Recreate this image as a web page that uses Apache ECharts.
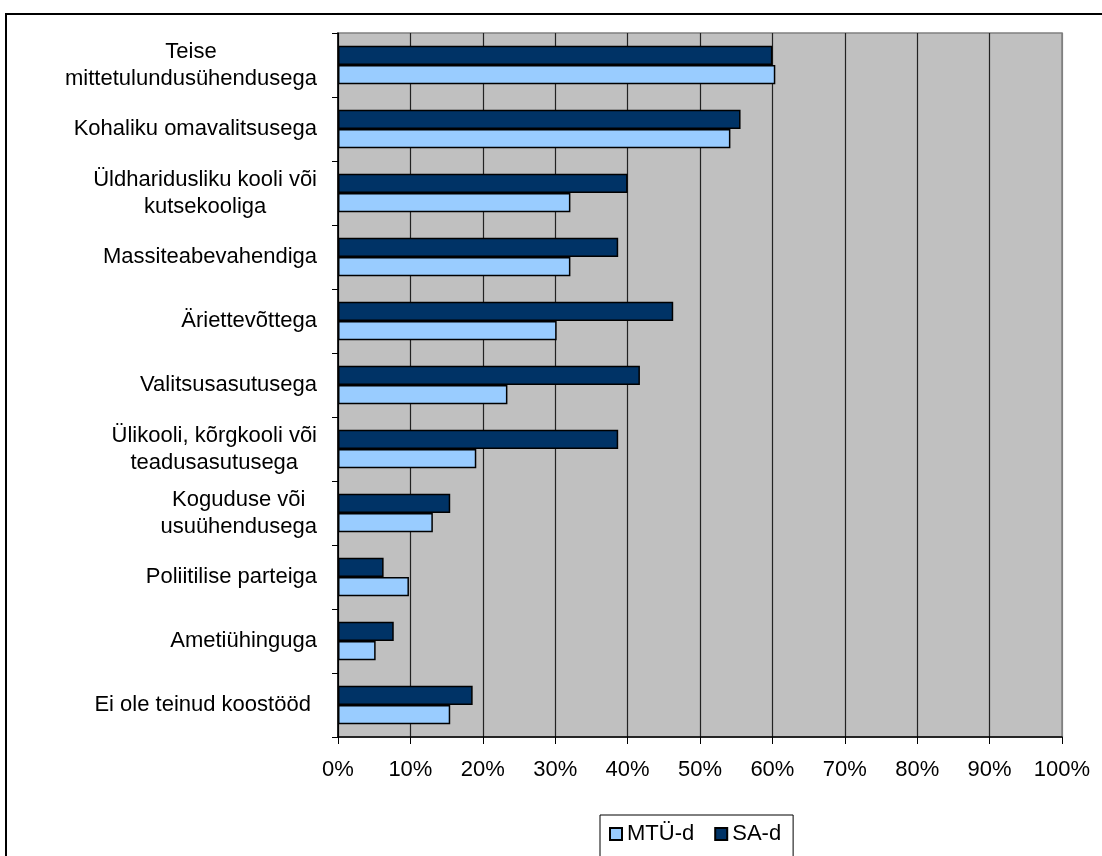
<!DOCTYPE html>
<html>
<head>
<meta charset="utf-8">
<script src="https://cdn.jsdelivr.net/npm/echarts@6/dist/echarts.min.js"></script>
<style>
  html, body { margin: 0; padding: 0; background: #fff; }
  #chart { width: 1102px; height: 856px; }
</style>
</head>
<body>
<div id="chart"></div>
<script>
// kategooriad ülalt alla
var categories = [
    'Teise\nmittetulundusühendusega',
    'Kohaliku omavalitsusega',
    'Üldharidusliku kooli või\nkutsekooliga',
    'Massiteabevahendiga',
    'Äriettevõttega',
    'Valitsusasutusega',
    'Ülikooli, kõrgkooli või\nteadusasutusega',
    'Koguduse või\nusuühendusega',
    'Poliitilise parteiga',
    'Ametiühinguga',
    'Ei ole teinud koostööd '
];
var mtuValues = [60.4, 54.2, 32.1, 32.1, 30.2, 23.4, 19.1, 13.1, 9.8, 5.2, 15.5];
var saValues = [60.0, 55.6, 40.0, 38.7, 46.3, 41.7, 38.7, 15.5, 6.3, 7.7, 18.6];
var seriesNames = ['MTÜ-d', 'SA-d'];

var font = 'Liberation Sans, Arial, sans-serif';

// ruudustiku jooned: 100% kohal hall (raam)
var gridColors = ['#000', '#222', '#222', '#222', '#222', '#222', '#222', '#222', '#222', '#222', '#808080'];

var chart = echarts.init(document.getElementById('chart'));
var option = {
    backgroundColor: '#fff',
    animation: false,
    graphic: [{
        type: 'rect',
        shape: { x: 6, y: 14, width: 1300, height: 1000 },
        style: { fill: 'none', stroke: '#000', lineWidth: 2 },
        silent: true
    }],
    legend: {
        data: seriesNames,
        left: 600,
        top: 815,
        orient: 'horizontal',
        icon: 'rect',
        itemWidth: 12,
        itemHeight: 12,
        itemGap: 20,
        padding: [8, 12, 40, 9],
        borderColor: '#000',
        borderWidth: 1,
        textStyle: {
            fontFamily: font,
            fontSize: 22,
            color: '#000'
        }
    },
    grid: {
        left: 338,
        right: 40,
        top: 33,
        bottom: 119,
        show: true,
        backgroundColor: '#c0c0c0',
        borderColor: '#808080',
        borderWidth: 1.5
    },
    xAxis: {
        type: 'value',
        min: 0,
        max: 100,
        interval: 10,
        axisLine: { show: true, lineStyle: { color: '#000', width: 1.5 } },
        axisTick: { show: true, length: 7, lineStyle: { color: '#000' } },
        axisLabel: {
            formatter: '{value}%',
            margin: 22,
            fontFamily: font,
            fontSize: 22,
            color: '#000'
        },
        splitLine: { show: true, lineStyle: { color: gridColors, width: 1.2 } }
    },
    yAxis: {
        type: 'category',
        inverse: true,
        data: categories,
        axisLine: { show: true, lineStyle: { color: '#000', width: 1.5 } },
        axisTick: { show: true, length: 6, lineStyle: { color: '#000' } },
        axisLabel: {
            margin: 21,
            align: 'right',
            fontFamily: font,
            fontSize: 22,
            color: '#000',
            formatter: function (value) {
                return value.split('\n').map(function (s) { return '{c|' + s + '}'; }).join('\n');
            },
            rich: {
                c: {
                    align: 'center',
                    fontFamily: font,
                    fontSize: 22,
                    lineHeight: 27,
                    color: '#000'
                }
            }
        }
    },
    series: [{
        name: 'SA-d',
        type: 'bar',
        barGap: '0%',
        barCategoryGap: '40%',
        itemStyle: { color: '#003366', borderColor: '#000', borderWidth: 1.5 },
        data: saValues
    }, {
        name: 'MTÜ-d',
        type: 'bar',
        barGap: '0%',
        barCategoryGap: '40%',
        itemStyle: { color: '#99ccff', borderColor: '#000', borderWidth: 1.5 },
        data: mtuValues
    }]
};
chart.setOption(option);
</script>
</body>
</html>
